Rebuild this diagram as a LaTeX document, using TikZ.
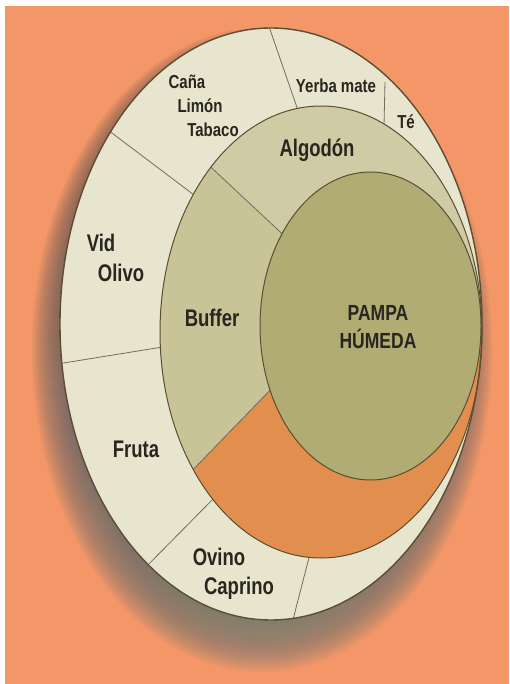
\documentclass[tikz,border=0pt]{standalone}
\usepackage{fontspec}
\setmainfont{Liberation Sans}
\definecolor{bgorange}{RGB}{243,150,104}
\definecolor{cream}{RGB}{232,229,206}
\definecolor{algod}{RGB}{207,203,164}
\definecolor{buff}{RGB}{200,196,152}
\definecolor{orng}{RGB}{226,142,78}
\definecolor{pampa}{RGB}{176,172,116}
\definecolor{rim}{RGB}{92,78,50}
\definecolor{divline}{RGB}{110,110,95}
\definecolor{shade}{RGB}{110,50,25}
\definecolor{ink}{RGB}{40,38,30}
\begin{document}
\begin{tikzpicture}[x=1pt,y=-1pt,
  lbl/.style={text=ink,font=\fontsize{18.5}{20}\selectfont\bfseries,yscale=1.3,inner sep=0pt},
  small/.style={text=ink,font=\fontsize{15}{17}\selectfont\bfseries,yscale=1.25,inner sep=0pt},
  divider/.style={draw=divline,line width=0.8pt},
  rimline/.style={draw=rim,line width=1pt}]
\useasboundingbox (0,0) rectangle (509,684);
\fill[white] (0,0) rectangle (509,684);
\fill[bgorange] (5,6) rectangle (509,684);
% shadow
\begin{scope}
  \clip (5,6) rectangle (509,684);
  \foreach \k in {0,...,27}{
    \pgfmathsetmacro\rx{200+30-2*\k}
    \pgfmathsetmacro\ry{292+30-2*\k}
    \fill[shade,opacity=0.04] (262,350) ellipse (\rx pt and \ry pt);
  }
\end{scope}
% centres
\coordinate (co) at (271,324);
\coordinate (cm) at (321,332);
\coordinate (ci) at (370.5,326);
% outer ring
\fill[cream] (co) ellipse (211pt and 296pt);
\coordinate (l1a) at (265,15);  \coordinate (l1b) at (302,122);
\coordinate (l2a) at (385,82);  \coordinate (l2b) at (384,125);
\coordinate (l3a) at (100,124); \coordinate (l3b) at (202,201);
\coordinate (l4a) at (45,366);  \coordinate (l4b) at (175,345);
\coordinate (l5a) at (139,574); \coordinate (l5b) at (221,491);
\coordinate (l6a) at (311,550); \coordinate (l6b) at (289,635);
\begin{scope}
  \clip (co) ellipse (211pt and 296pt);
  \draw[divider] (l1a) -- (l1b);
  \draw[divider] (l2a) -- (l2b);
  \draw[divider] (l3a) -- (l3b);
  \draw[divider] (l4a) -- (l4b);
  \draw[divider] (l5a) -- (l5b);
  \draw[divider] (l6a) -- (l6b);
\end{scope}
% middle ring
\fill[algod] (cm) ellipse (161pt and 226pt);
\coordinate (m1a) at (200,157); \coordinate (m1b) at (292,243);
\coordinate (m2a) at (279,381); \coordinate (m2b) at (184,479);
\begin{scope}
  \clip (cm) ellipse (161pt and 226pt);
  \fill[buff] (144,104) -- (314,264) -- (304,354) -- (122,544) -- (40,544) -- (40,104) -- cycle;
  \fill[orng] (304,354) -- (122,544) -- (122,640) -- (560,640) -- (560,330) -- (370,330) -- cycle;
  \draw[divider] (m1a) -- (m1b);
  \draw[divider] (m2a) -- (m2b);
\end{scope}
\draw[rimline] (cm) ellipse (161pt and 226pt);
% inner
\fill[pampa] (ci) ellipse (110.5pt and 154pt);
\draw[rimline] (ci) ellipse (110.5pt and 154pt);
% outer rim
\draw[rim,line width=1.4pt] (co) ellipse (211pt and 296pt);
% labels
\node[small] (cana) at (187,82) {Caña};
\node[small] (limon) at (200,106) {Limón};
\node[small] (tabaco) at (213,130) {Tabaco};
\node[small] (yerba) at (336,86) {Yerba mate};
\node[small] (te) at (406,122) {Té};
\node[lbl] (algodon) at (317,150) {Algodón};
\node[lbl] (vid) at (101,243) {Vid};
\node[lbl] (olivo) at (121,273) {Olivo};
\node[lbl] (buffer) at (212,318) {Buffer};
\node[lbl] (fruta) at (136,449) {Fruta};
\node[lbl] (ovino) at (219,557) {Ovino};
\node[lbl] (caprino) at (239,588) {Caprino};
\node[text=ink,font=\fontsize{17.5}{23}\selectfont\bfseries,yscale=1.25,inner sep=0pt,align=center] (pampah) at (378,327) {PAMPA\\HÚMEDA};
\end{tikzpicture}
\end{document}
